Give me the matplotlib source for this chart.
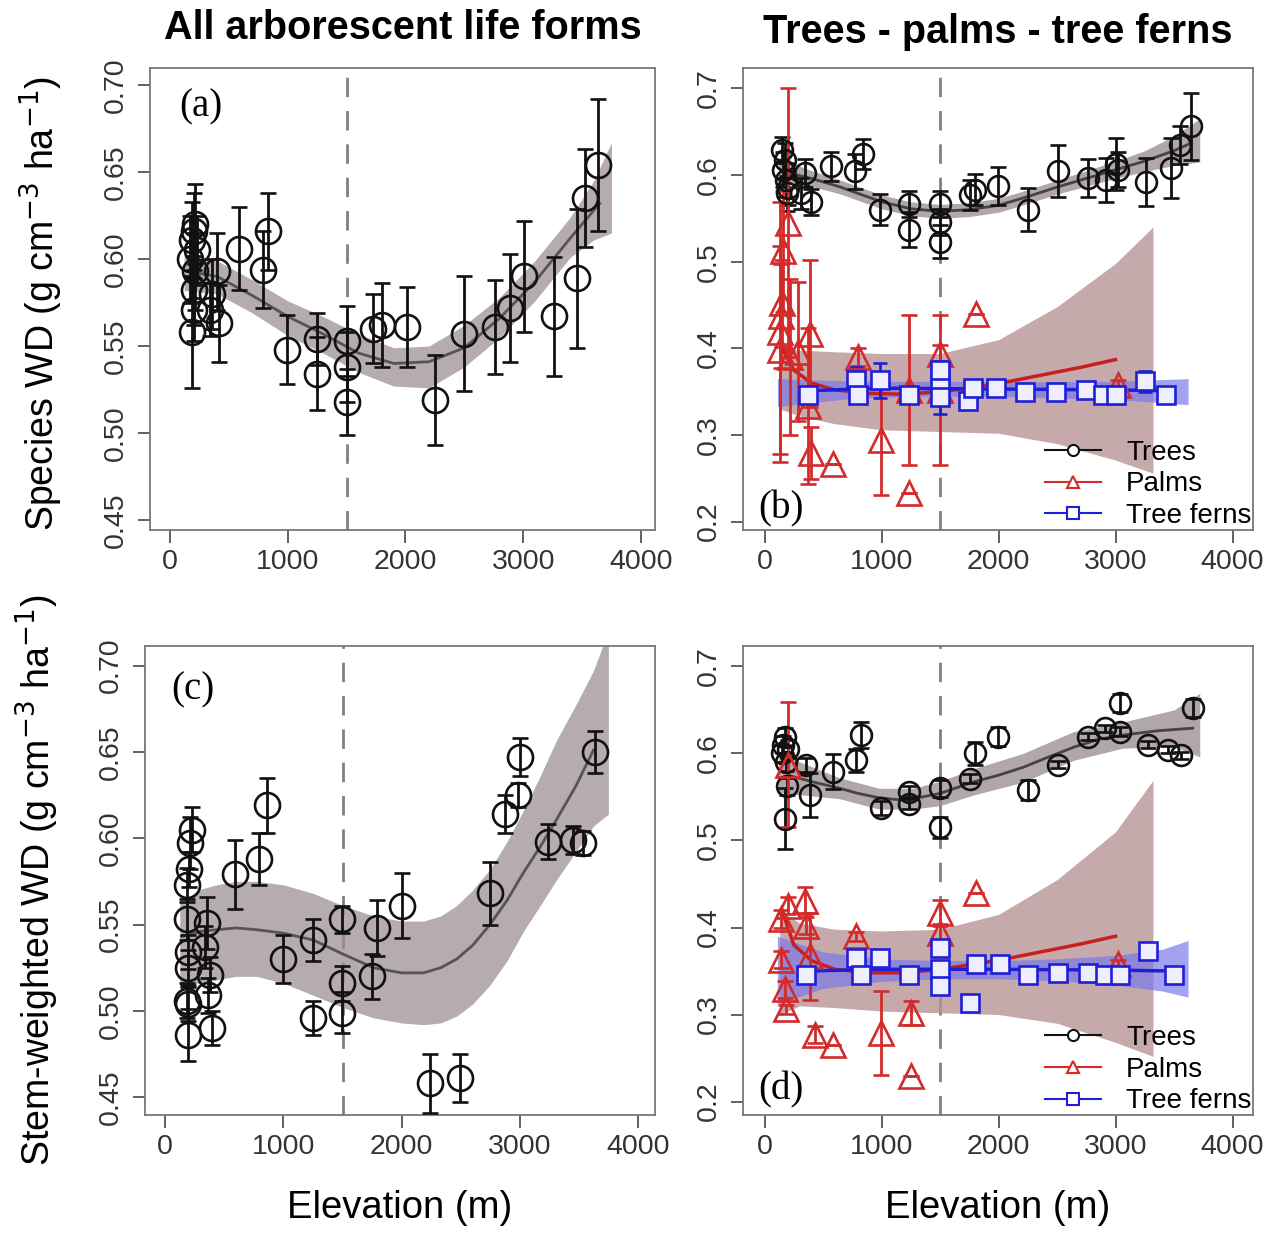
import matplotlib.pyplot as plt
from matplotlib.lines import Line2D

plt.rcParams['font.family'] = ['Liberation Sans', 'DejaVu Sans']

# ---------------- panel (a): all arborescent, species WD ----------------
elev_a = [170, 190, 200, 200, 210, 190, 200, 210, 230, 340, 354, 397, 420, 590, 793, 836, 990,
          1246, 1246, 1500, 1500, 1500, 1728, 1799, 2011, 2252, 2499, 2762, 2890, 3003, 3258,
          3456, 3527, 3640]
wd_a = [0.600, 0.558, 0.571, 0.582, 0.593, 0.611, 0.616, 0.620, 0.605, 0.571, 0.580, 0.593,
        0.563, 0.606, 0.594, 0.616, 0.548, 0.554, 0.534, 0.553, 0.538, 0.518, 0.560, 0.562,
        0.561, 0.519, 0.557, 0.561, 0.572, 0.590, 0.567, 0.589, 0.635, 0.654]
err_a = [0.025, 0.032, 0.018, 0.02, 0.022, 0.022, 0.022, 0.023, 0.02, 0.015, 0.02, 0.022,
         0.022, 0.024, 0.022, 0.022, 0.02, 0.015, 0.021, 0.02, 0.02, 0.019, 0.02, 0.024,
         0.023, 0.026, 0.033, 0.027, 0.031, 0.032, 0.034, 0.04, 0.028, 0.038]
fit_x_a = [150, 400, 700, 1000, 1300, 1600, 1900, 2200, 2500, 2800, 3100, 3400, 3650]
fit_y_a = [0.593, 0.590, 0.579, 0.567, 0.557, 0.546, 0.540, 0.541, 0.549, 0.566, 0.587, 0.612, 0.632]
band_x_a = [120, 400, 700, 1000, 1300, 1600, 1900, 2200, 2500, 2800, 3100, 3400, 3600, 3750]
band_lo_a = [0.582, 0.580, 0.569, 0.556, 0.546, 0.535, 0.527, 0.526, 0.538, 0.555, 0.576, 0.601, 0.611, 0.615]
band_hi_a = [0.603, 0.599, 0.588, 0.576, 0.567, 0.557, 0.549, 0.550, 0.562, 0.578, 0.599, 0.624, 0.645, 0.667]

# ---------------- panel (b): life forms, species WD ----------------
elev_bt = [150, 160, 171, 180, 190, 200, 313, 342, 399, 570, 777, 840, 983, 1239, 1239, 1496,
           1496, 1496, 1752, 1795, 1995, 2250, 2507, 2764, 2921, 3006, 3020, 3262, 3476, 3547, 3647]
wd_bt = [0.629, 0.606, 0.617, 0.594, 0.579, 0.585, 0.579, 0.602, 0.569, 0.610, 0.604, 0.624,
         0.560, 0.567, 0.537, 0.567, 0.546, 0.523, 0.577, 0.583, 0.587, 0.560, 0.604, 0.596,
         0.594, 0.613, 0.606, 0.592, 0.608, 0.635, 0.656]
err_bt = [0.015, 0.02, 0.02, 0.02, 0.02, 0.02, 0.018, 0.016, 0.015, 0.017, 0.02, 0.017, 0.018,
          0.015, 0.02, 0.015, 0.015, 0.019, 0.017, 0.018, 0.022, 0.025, 0.03, 0.022, 0.025,
          0.03, 0.02, 0.028, 0.035, 0.022, 0.039]
fit_x_bt = [150, 400, 650, 1000, 1250, 1500, 1750, 2000, 2250, 2500, 2750, 3000, 3250, 3500, 3650]
fit_y_bt = [0.604, 0.596, 0.586, 0.569, 0.561, 0.558, 0.560, 0.565, 0.575, 0.586, 0.596, 0.606,
            0.616, 0.628, 0.637]
band_x_bt = [120, 400, 650, 1000, 1250, 1500, 1750, 2000, 2250, 2500, 2750, 3000, 3250, 3500, 3720]
band_lo_bt = [0.590, 0.587, 0.578, 0.561, 0.553, 0.550, 0.552, 0.557, 0.567, 0.578, 0.587,
              0.596, 0.604, 0.611, 0.615]
band_hi_bt = [0.620, 0.605, 0.594, 0.577, 0.569, 0.566, 0.568, 0.573, 0.583, 0.594, 0.605,
              0.616, 0.628, 0.645, 0.665]

elev_bp = [128, 135, 140, 150, 160, 200, 214, 285, 370, 385, 399, 584, 798, 997, 1239, 1239,
           1496, 1496, 1809, 3020]
wd_bp = [0.419, 0.398, 0.437, 0.452, 0.512, 0.545, 0.390, 0.396, 0.333, 0.417, 0.279, 0.267,
         0.390, 0.294, 0.352, 0.233, 0.352, 0.394, 0.440, 0.358]
err_bp = [0.15, 0.12, 0.06, 0.05, 0.07, 0.155, 0.09, 0.08, 0.09, 0.085, 0.03, 0.0, 0.01, 0.063,
          0.087, 0.0, 0.087, 0.01, 0.0, 0.005]
fit_x_bp = [150, 250, 400, 600, 900, 1200, 1500, 1800, 2100, 2400, 2700, 3000]
fit_y_bp = [0.400, 0.375, 0.360, 0.352, 0.348, 0.347, 0.350, 0.355, 0.362, 0.370, 0.378, 0.387]
band_x_bp = [130, 300, 600, 1000, 1500, 2000, 2500, 3000, 3320]
band_lo_bp = [0.330, 0.322, 0.313, 0.306, 0.304, 0.302, 0.290, 0.271, 0.256]
band_hi_bp = [0.400, 0.398, 0.396, 0.394, 0.394, 0.410, 0.448, 0.498, 0.540]

elev_bf = [370, 784, 798, 983, 1239, 1496, 1496, 1496, 1738, 1781, 1981, 2222, 2493, 2750,
           2892, 3006, 3248, 3433]
wd_bf = [0.346, 0.363, 0.346, 0.363, 0.346, 0.363, 0.344, 0.375, 0.339, 0.354, 0.354, 0.350,
         0.350, 0.352, 0.346, 0.346, 0.362, 0.346]
err_bf = [0.008, 0.015, 0.005, 0.02, 0.005, 0.02, 0.02, 0.01, 0.005, 0.01, 0.005, 0.005,
          0.005, 0.005, 0.005, 0.005, 0.012, 0.005]
fit_x_bf = [370, 1000, 2000, 3000, 3450]
fit_y_bf = [0.351, 0.354, 0.353, 0.352, 0.351]
band_x_bf = [110, 800, 1500, 2200, 3000, 3620]
band_lo_bf = [0.333, 0.343, 0.345, 0.344, 0.341, 0.335]
band_hi_bf = [0.365, 0.362, 0.362, 0.361, 0.362, 0.365]

# ---------------- panel (c): all arborescent, stem-weighted WD ----------------
elev_c = [183, 183, 183, 197, 197, 197, 197, 206, 211, 225, 338, 352, 366, 380, 394, 592, 797,
          859, 1000, 1248, 1254, 1493, 1493, 1493, 1746, 1794, 2000, 2239, 2493, 2746, 2873,
          2986, 3000, 3239, 3451, 3535, 3634]
wd_c = [0.573, 0.553, 0.506, 0.534, 0.525, 0.504, 0.486, 0.582, 0.597, 0.605, 0.537, 0.551,
        0.509, 0.521, 0.490, 0.579, 0.588, 0.619, 0.530, 0.541, 0.496, 0.553, 0.516, 0.499,
        0.520, 0.548, 0.561, 0.458, 0.461, 0.568, 0.614, 0.625, 0.647, 0.598, 0.599, 0.597, 0.650]
err_c = [0.01, 0.012, 0.01, 0.01, 0.01, 0.01, 0.015, 0.01, 0.015, 0.013, 0.012, 0.015, 0.01,
         0.01, 0.01, 0.02, 0.015, 0.016, 0.014, 0.012, 0.01, 0.008, 0.01, 0.012, 0.013, 0.016,
         0.019, 0.017, 0.014, 0.018, 0.011, 0.007, 0.011, 0.01, 0.008, 0.007, 0.012]
fit_x_c = [140, 300, 437, 600, 775, 1000, 1254, 1500, 1761, 2000, 2183, 2330, 2465, 2600, 2746,
           2890, 3028, 3170, 3310, 3470, 3620]
fit_y_c = [0.543, 0.546, 0.547, 0.548, 0.547, 0.545, 0.541, 0.533, 0.525, 0.522, 0.522, 0.525,
           0.530, 0.538, 0.550, 0.564, 0.580, 0.595, 0.611, 0.630, 0.651]
band_x_c = [125, 280, 437, 600, 775, 1000, 1254, 1500, 1761, 2000, 2183, 2330, 2465, 2600, 2746,
            2890, 3028, 3170, 3310, 3470, 3620, 3746]
band_lo_c = [0.515, 0.516, 0.518, 0.520, 0.520, 0.516, 0.509, 0.502, 0.496, 0.493, 0.492, 0.493,
             0.497, 0.504, 0.515, 0.529, 0.546, 0.561, 0.576, 0.592, 0.607, 0.614]
band_hi_c = [0.562, 0.570, 0.573, 0.575, 0.575, 0.573, 0.568, 0.561, 0.555, 0.552, 0.552, 0.555,
             0.561, 0.570, 0.582, 0.598, 0.616, 0.636, 0.657, 0.677, 0.697, 0.720]

# ---------------- panel (d): life forms, stem-weighted WD ----------------
elev_dt = [150, 160, 171, 171, 180, 195, 200, 356, 385, 584, 784, 827, 997, 1239, 1239, 1496,
           1496, 1752, 1795, 1995, 2250, 2507, 2764, 2907, 3035, 3040, 3276, 3447, 3561, 3661]
wd_dt = [0.600, 0.610, 0.619, 0.525, 0.590, 0.562, 0.605, 0.587, 0.552, 0.579, 0.592, 0.621,
         0.537, 0.556, 0.542, 0.560, 0.515, 0.571, 0.600, 0.619, 0.558, 0.587, 0.619, 0.629,
         0.658, 0.625, 0.610, 0.604, 0.598, 0.652]
err_dt = [0.01, 0.01, 0.01, 0.035, 0.01, 0.01, 0.01, 0.008, 0.025, 0.02, 0.013, 0.015, 0.008,
          0.006, 0.006, 0.01, 0.012, 0.005, 0.013, 0.011, 0.012, 0.004, 0.004, 0.004, 0.01,
          0.005, 0.004, 0.004, 0.004, 0.01]
fit_x_dt = [200, 420, 640, 800, 980, 1130, 1270, 1500, 1780, 2000, 2210, 2430, 2640, 2850, 3060,
            3360, 3660]
fit_y_dt = [0.575, 0.567, 0.560, 0.554, 0.549, 0.547, 0.548, 0.554, 0.567, 0.575, 0.584, 0.596,
            0.607, 0.616, 0.621, 0.626, 0.629]
band_x_dt = [120, 640, 980, 1270, 1500, 1780, 2210, 2640, 3060, 3500, 3720]
band_lo_dt = [0.555, 0.548, 0.536, 0.536, 0.540, 0.552, 0.567, 0.592, 0.606, 0.608, 0.596]
band_hi_dt = [0.600, 0.572, 0.560, 0.560, 0.568, 0.582, 0.600, 0.625, 0.636, 0.650, 0.669]

elev_dp = [142, 142, 171, 185, 200, 200, 342, 356, 385, 428, 584, 784, 997, 1254, 1254, 1496,
           1496, 1809, 3020]
wd_dp = [0.410, 0.363, 0.329, 0.306, 0.587, 0.425, 0.431, 0.402, 0.367, 0.277, 0.265, 0.390,
         0.279, 0.302, 0.229, 0.417, 0.394, 0.440, 0.358]
err_dp = [0.01, 0.01, 0.01, 0.005, 0.072, 0.01, 0.016, 0.01, 0.05, 0.01, 0.0, 0.005, 0.048,
          0.014, 0.0, 0.015, 0.01, 0.0, 0.005]
fit_x_dp = [150, 250, 400, 600, 900, 1200, 1500, 1800, 2100, 2400, 2700, 3000]
fit_y_dp = [0.420, 0.380, 0.362, 0.352, 0.348, 0.348, 0.352, 0.358, 0.365, 0.373, 0.381, 0.390]
band_x_dp = [130, 300, 600, 1000, 1500, 2000, 2500, 3000, 3320]
band_lo_dp = [0.300, 0.310, 0.308, 0.304, 0.302, 0.300, 0.290, 0.268, 0.252]
band_hi_dp = [0.420, 0.405, 0.398, 0.396, 0.398, 0.415, 0.455, 0.510, 0.569]

elev_df = [356, 784, 827, 983, 1239, 1496, 1496, 1496, 1752, 1809, 2009, 2250, 2507, 2764,
           2907, 3035, 3276, 3504]
wd_df = [0.346, 0.365, 0.346, 0.365, 0.346, 0.377, 0.352, 0.333, 0.313, 0.358, 0.358, 0.346,
         0.348, 0.348, 0.346, 0.346, 0.373, 0.346]
err_df = [0.004] * len(elev_df)
fit_x_df = [356, 1000, 2000, 3000, 3504]
fit_y_df = [0.350, 0.352, 0.352, 0.351, 0.350]
band_x_df = [110, 500, 1000, 1500, 2000, 2500, 3000, 3400, 3620]
band_lo_df = [0.312, 0.330, 0.338, 0.341, 0.341, 0.339, 0.334, 0.327, 0.320]
band_hi_df = [0.390, 0.372, 0.364, 0.362, 0.362, 0.364, 0.368, 0.375, 0.385]

x_ticks = [0, 1000, 2000, 3000, 4000]
y_ticks_all = [0.45, 0.50, 0.55, 0.60, 0.65, 0.70]
y_ticks_forms = [0.2, 0.3, 0.4, 0.5, 0.6, 0.7]

BLACK = '#111111'
RED = '#d42a2a'
BLUE = '#1f1fd8'
GREY_BAND = '#9e9092'
RED_BAND = '#b89496'
BLUE_BAND = '#7b7be8'
FW = 12.83
FH = 12.35


def px_axes(fig, left, top, right, bottom):
    return fig.add_axes([left / (FW * 100), 1 - bottom / (FH * 100),
                         (right - left) / (FW * 100), (bottom - top) / (FH * 100)])


def style_axes(ax, xlim, ylim, yticks, yfmt):
    ax.set_xlim(*xlim)
    ax.set_ylim(*ylim)
    ax.set_xticks(x_ticks)
    ax.set_yticks(yticks)
    ax.set_yticklabels([yfmt % v for v in yticks], rotation=90, va='center')
    ax.tick_params(direction='out', length=9, width=1.3, colors='#555555',
                   labelsize=20.5, labelcolor='#333333')
    ax.tick_params(axis='x', pad=5)
    ax.tick_params(axis='y', pad=6)
    for s in ax.spines.values():
        s.set_color('#777777')
        s.set_linewidth(1.3)
    ax.axvline(1500, color='#808080', lw=2, dashes=(7, 5), zorder=0.5)


def draw_series(ax, x, y, err, color, marker, ms, mfc='none', lw=2.0, cap=6):
    ax.errorbar(x, y, yerr=err, fmt=marker, ms=ms, mfc=mfc, mec=color, mew=1.9,
                ecolor=color, elinewidth=lw, capsize=cap, capthick=lw, zorder=3)


fig = plt.figure(figsize=(FW, FH), dpi=100)

# panel a
ax_a = px_axes(fig, 150, 68, 655, 530)
style_axes(ax_a, (-170, 4120), (0.4443, 0.7098), y_ticks_all, '%.2f')
ax_a.fill_between(band_x_a, band_lo_a, band_hi_a, color=GREY_BAND, alpha=0.75, lw=0, zorder=1)
ax_a.plot(fit_x_a, fit_y_a, color='#555555', lw=2, zorder=2)
draw_series(ax_a, elev_a, wd_a, err_a, BLACK, 'o', 18)
ax_a.text(0.1, 0.915, '(a)', transform=ax_a.transAxes, family='Liberation Serif',
          fontsize=28, ha='center', va='center')
ax_a.text(0.5, 1.087, 'All arborescent life forms', transform=ax_a.transAxes,
          fontsize=28.5, fontweight='bold', ha='center', va='center')
ax_a.set_ylabel('Species WD (g cm$^{-3}$ ha$^{-1}$)', fontsize=27)
ax_a.yaxis.set_label_coords(-0.168, 0.49)


def draw_forms(ax, tx, ty, te, tfx, tfy, tbx, tblo, tbhi,
               px, py, pe, pfx, pfy, pbx, pblo, pbhi,
               fx, fy, fe, ffx, ffy, fbx, fblo, fbhi):
    ax.fill_between(tbx, tblo, tbhi, color=GREY_BAND, alpha=0.8, lw=0, zorder=1)
    ax.fill_between(pbx, pblo, pbhi, color=RED_BAND, alpha=0.8, lw=0, zorder=1)
    ax.fill_between(fbx, fblo, fbhi, color=BLUE_BAND, alpha=0.7, lw=0, zorder=1.2)
    ax.plot(tfx, tfy, color='#444444', lw=2, zorder=2)
    ax.plot(pfx, pfy, color='#c81e1e', lw=2.5, zorder=2)
    ax.plot(ffx, ffy, color=BLUE, lw=2.5, zorder=2)
    draw_series(ax, tx, ty, te, BLACK, 'o', 15, lw=2.0, cap=6)
    draw_series(ax, px, py, pe, RED, '^', 17, lw=2.0, cap=6)
    draw_series(ax, fx, fy, fe, BLUE, 's', 13, mfc='#eeeeff', lw=2.0, cap=5)
    handles = [
        Line2D([0], [0], color=BLACK, lw=1.5, marker='o', ms=8, mfc='white', mew=1.5),
        Line2D([0], [0], color=RED, lw=1.5, marker='^', ms=9, mfc='white', mew=1.5),
        Line2D([0], [0], color=BLUE, lw=1.5, marker='s', ms=8, mfc='white', mew=1.5),
    ]
    ax.legend(handles, ['Trees', 'Palms', 'Tree ferns'], loc='lower right',
              bbox_to_anchor=(1.035, -0.04), frameon=False, fontsize=20,
              handlelength=2.0, handletextpad=0.9, labelspacing=0.2, borderaxespad=0.3)


# panel b
ax_b = px_axes(fig, 743, 68, 1253, 530)
style_axes(ax_b, (-184, 4175), (0.1904, 0.7234), y_ticks_forms, '%.1f')
draw_forms(ax_b, elev_bt, wd_bt, err_bt, fit_x_bt, fit_y_bt, band_x_bt, band_lo_bt, band_hi_bt,
           elev_bp, wd_bp, err_bp, fit_x_bp, fit_y_bp, band_x_bp, band_lo_bp, band_hi_bp,
           elev_bf, wd_bf, err_bf, fit_x_bf, fit_y_bf, band_x_bf, band_lo_bf, band_hi_bf)
ax_b.text(0.075, 0.045, '(b)', transform=ax_b.transAxes, family='Liberation Serif',
          fontsize=28, ha='center', va='center')
ax_b.text(0.5, 1.078, 'Trees - palms - tree ferns', transform=ax_b.transAxes,
          fontsize=28.5, fontweight='bold', ha='center', va='center')

# panel c
ax_c = px_axes(fig, 145, 646, 655, 1115)
style_axes(ax_c, (-169, 4140), (0.4397, 0.7113), y_ticks_all, '%.2f')
ax_c.fill_between(band_x_c, band_lo_c, band_hi_c, color=GREY_BAND, alpha=0.75, lw=0, zorder=1)
ax_c.plot(fit_x_c, fit_y_c, color='#555555', lw=2, zorder=2)
draw_series(ax_c, elev_c, wd_c, err_c, BLACK, 'o', 18)
ax_c.text(0.094, 0.906, '(c)', transform=ax_c.transAxes, family='Liberation Serif',
          fontsize=28, ha='center', va='center')
ax_c.set_ylabel('Stem-weighted WD (g cm$^{-3}$ ha$^{-1}$)', fontsize=27)
ax_c.yaxis.set_label_coords(-0.165, 0.5)
ax_c.set_xlabel('Elevation (m)', fontsize=27.5)
ax_c.xaxis.set_label_coords(0.5, -0.16)

# panel d
ax_d = px_axes(fig, 743, 646, 1253, 1115)
style_axes(ax_d, (-184, 4175), (0.1846, 0.7234), y_ticks_forms, '%.1f')
draw_forms(ax_d, elev_dt, wd_dt, err_dt, fit_x_dt, fit_y_dt, band_x_dt, band_lo_dt, band_hi_dt,
           elev_dp, wd_dp, err_dp, fit_x_dp, fit_y_dp, band_x_dp, band_lo_dp, band_hi_dp,
           elev_df, wd_df, err_df, fit_x_df, fit_y_df, band_x_df, band_lo_df, band_hi_df)
ax_d.text(0.075, 0.053, '(d)', transform=ax_d.transAxes, family='Liberation Serif',
          fontsize=28, ha='center', va='center')
ax_d.set_xlabel('Elevation (m)', fontsize=27.5)
ax_d.xaxis.set_label_coords(0.5, -0.16)

fig.savefig('out.png', dpi=100)
